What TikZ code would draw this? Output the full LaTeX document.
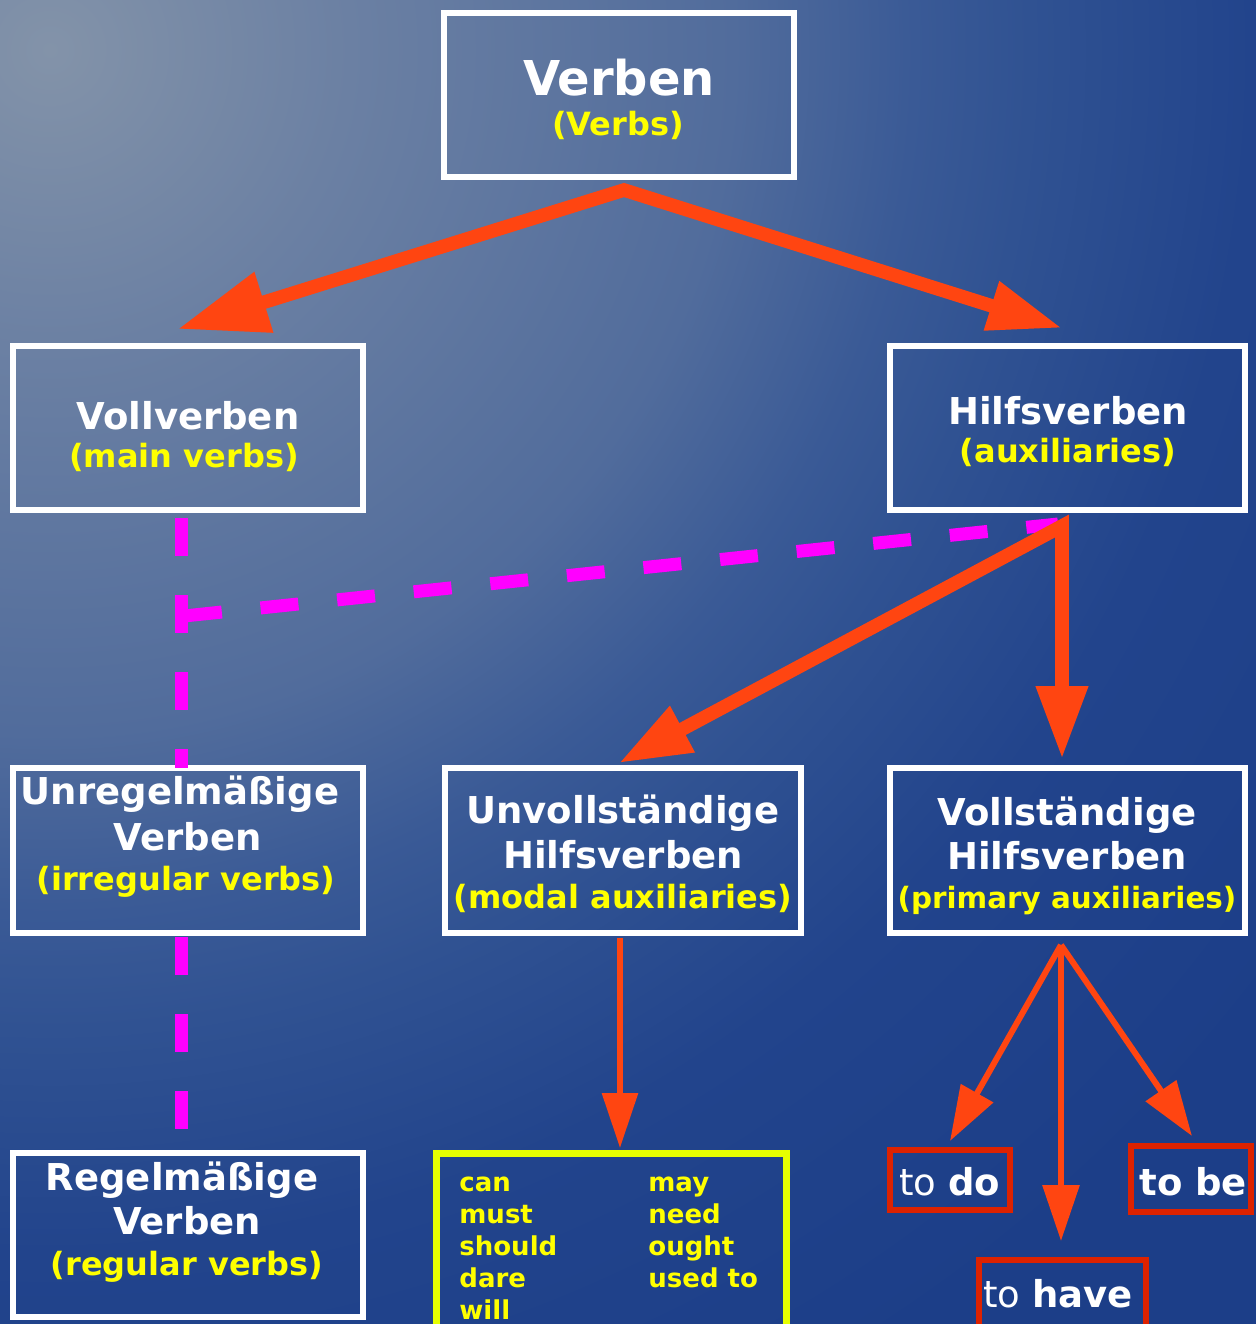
\documentclass[tikz,border=0pt]{standalone}
\usepackage{fontspec}
\setmainfont{DejaVu Sans}
\usetikzlibrary{arrows.meta}
\definecolor{bgA}{HTML}{8393A9}
\definecolor{bgB}{HTML}{6B80A3}
\definecolor{bgC}{HTML}{516C9C}
\definecolor{bgD}{HTML}{3A5A96}
\definecolor{bgE}{HTML}{305292}
\definecolor{bgF}{HTML}{22448C}
\definecolor{bgG}{HTML}{1C3E88}
\definecolor{arr}{HTML}{FF4511}
\definecolor{mag}{HTML}{FF00FF}
\definecolor{ylw}{HTML}{FFFF00}
\definecolor{ybox}{HTML}{E6FF00}
\definecolor{rbox}{HTML}{DD2200}
\pgfdeclareradialshading{bgshade}{\pgfpoint{0bp}{0bp}}{color(0bp)=(bgA); color(4.17bp)=(bgB); color(9.5bp)=(bgC); color(12bp)=(bgD); color(13.6bp)=(bgE); color(16.7bp)=(bgF); color(21.5bp)=(bgG); color(50bp)=(bgG)}
\tikzset{
  wbox/.style={draw=white, line width=3pt, inner sep=0pt},
  rbx/.style={draw=rbox, line width=3pt, inner sep=0pt},
  ttl/.style={anchor=base, text=white, font=\fontsize{18.5}{22}\selectfont\bfseries, inner sep=0pt},
  sub/.style={anchor=base, text=ylw, font=\fontsize{16}{19}\selectfont\bfseries, inner sep=0pt},
  subs/.style={anchor=base, text=ylw, font=\fontsize{14.7}{18}\selectfont\bfseries, inner sep=0pt},
  wrd/.style={anchor=base west, text=ylw, font=\fontsize{13}{16}\selectfont\bfseries, inner sep=0pt},
  tobox/.style={anchor=base west, text=white, font=\fontsize{18.5}{22}\selectfont, inner sep=0pt},
  thick arrow/.style={draw=arr, line width=6.8pt, line join=miter},
  thin arrow/.style={draw=arr, line width=3pt, line join=miter},
  magdash/.style={draw=mag, line width=6.5pt, dash pattern=on 19pt off 19.5pt}
}
\begin{document}
\begin{tikzpicture}[x=0.5pt,y=-0.5pt]
\useasboundingbox (0,0) rectangle (1256,1324);
\begin{scope}
\clip (0,0) rectangle (1256,1324);
\shade[shading=bgshade] (50,50) circle (1800);
\end{scope}

% boxes
\node[wbox, minimum width=175pt, minimum height=82pt] (verben) at (619,95) {};
\node[wbox, minimum width=175pt, minimum height=82pt] (voll) at (188,428) {};
\node[wbox, minimum width=177.5pt, minimum height=82pt] (hilf) at (1067.5,428) {};
\node[wbox, minimum width=175pt, minimum height=82.5pt] (unreg) at (188,850.5) {};
\node[wbox, minimum width=178pt, minimum height=82.5pt] (unvoll) at (623,850.5) {};
\node[wbox, minimum width=177.5pt, minimum height=82.5pt] (vollst) at (1067.5,850.5) {};
\node[wbox, minimum width=175pt, minimum height=82pt] (reg) at (188,1235) {};
\node[draw=ybox, line width=3.5pt, inner sep=0pt, minimum width=175pt, minimum height=96pt] (words) at (611.5,1249) {};
\node[rbx, minimum width=60pt, minimum height=30pt] (todo) at (950,1180) {};
\node[rbx, minimum width=60pt, minimum height=33pt] (tobe) at (1191,1179) {};
\node[rbx, minimum width=83.5pt, minimum height=38.5pt] (tohave) at (1062.5,1298) {};

% texts
\node[ttl, font=\fontsize{24}{28}\selectfont\bfseries] (verbenA) at (619,95) {Verben};
\node[sub] (verbenB) at (618,135) {(Verbs)};
\node[ttl] (vollA) at (188,429) {Vollverben};
\node[sub] (vollB) at (184,467) {(main verbs)};
\node[ttl] (hilfA) at (1068,424) {Hilfsverben};
\node[sub] (hilfB) at (1068,462) {(auxiliaries)};
\node[ttl] (unregA) at (180,804) {Unregelmäßige};
\node[ttl] (unregB) at (187.5,850) {Verben};
\node[sub] (unregC) at (186,890) {(irregular verbs)};
\node[ttl] (unvollA) at (623,823) {Unvollständige};
\node[ttl] (unvollB) at (623,868) {Hilfsverben};
\node[sub] (unvollC) at (623,908) {(modal auxiliaries)};
\node[ttl] (vollstA) at (1067,825) {Vollständige};
\node[ttl] (vollstB) at (1067,869) {Hilfsverben};
\node[subs] (vollstC) at (1067,908) {(primary auxiliaries)};
\node[ttl] (regA) at (182,1190) {Regelmäßige};
\node[ttl] (regB) at (187,1234) {Verben};
\node[sub] (regC) at (187,1275) {(regular verbs)};

\node[wrd] (w1) at (459,1191) {can};
\node[wrd] (w2) at (459,1223) {must};
\node[wrd] (w3) at (459,1255) {should};
\node[wrd] (w4) at (459,1287) {dare};
\node[wrd] (w5) at (459,1319) {will};
\node[wrd] (w6) at (648,1191) {may};
\node[wrd] (w7) at (648,1223) {need};
\node[wrd] (w8) at (648,1255) {ought};
\node[wrd] (w9) at (648,1287) {used to};

\node[tobox] (todoT) at (899,1195) {to \textbf{do}};
\node[tobox] (tobeT) at (1139,1195) {\textbf{to be}};
\node[tobox] (tohaveT) at (983,1307) {to \textbf{have}};

% coordinates
\coordinate (apex) at (624,190);
\coordinate (tipL) at (178,329);
\coordinate (tipR) at (1062,328);
\coordinate (hb) at (1062,526);
\coordinate (tipU) at (619,763);
\coordinate (tipV) at (1062,759);
\coordinate (ub) at (620,938);
\coordinate (tipW) at (620,1148);
\coordinate (vb) at (1061,945);
\coordinate (tipDo) at (950,1141);
\coordinate (tipHave) at (1061,1241);
\coordinate (tipBe) at (1192,1136);
\coordinate (m1) at (181,518);
\coordinate (m2) at (181,768);
\coordinate (m3) at (181,937);
\coordinate (m4) at (181,1150);
\coordinate (mL) at (184,616);
\coordinate (mR) at (1058,524);

% magenta dashed
\draw[magdash] (m1) -- (m2);
\draw[magdash] (m3) -- (m4);
\draw[magdash] (mL) -- (mR);

% arrows
\draw[thick arrow, {Triangle[length=45pt,width=30pt]}-{Triangle[length=37pt,width=24pt]}] (tipL) -- (apex) -- (tipR);
\draw[thick arrow, {Triangle[length=36pt,width=24.5pt]}-{Triangle[length=36.5pt,width=24.5pt]}] (tipU) -- (hb) -- (tipV);
\draw[thin arrow, -{Triangle[length=27.5pt,width=17.5pt]}] (ub) -- (tipW);
\draw[thin arrow, -{Triangle[length=27.5pt,width=18pt]}] (vb) -- (tipDo);
\draw[thin arrow, -{Triangle[length=28pt,width=18pt]}] (vb) -- (tipHave);
\draw[thin arrow, -{Triangle[length=27.5pt,width=18pt]}] (vb) -- (tipBe);
\end{tikzpicture}
\end{document}
